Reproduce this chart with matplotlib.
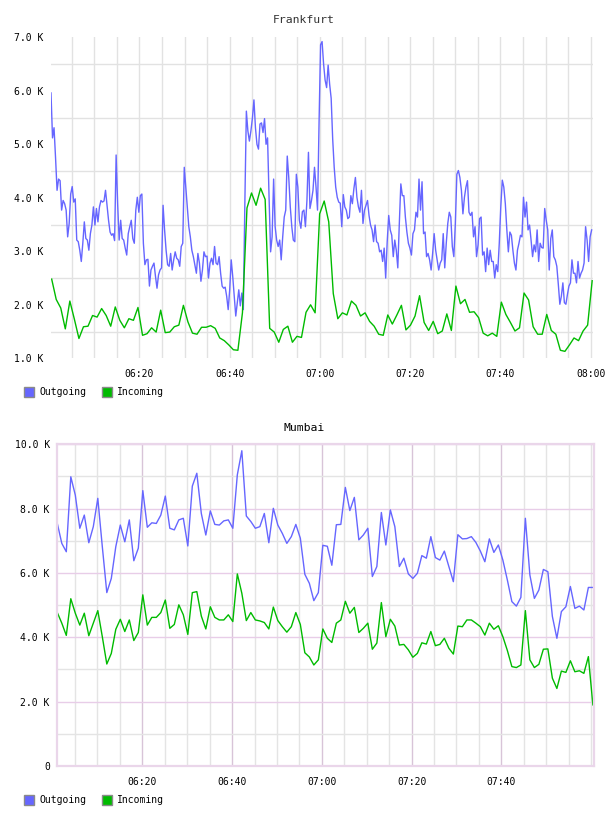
import matplotlib
matplotlib.use('Agg')
import matplotlib.pyplot as plt
import matplotlib.dates as mdates
from matplotlib.patches import Patch
from matplotlib.ticker import FuncFormatter, MultipleLocator
import pandas as pd

plt.rcParams.update({
    'font.family': 'DejaVu Sans Mono',
    'font.size': 7,
})

DAY = '2024-01-01 '
OUT_COLOR = '#6666ff'
IN_COLOR = '#00bb00'

# Frankfurt, values in K. outgoing sampled ~20 s, incoming ~1 min
frankfurt_out = [
    5.96, 5.12, 5.31, 4.75, 4.14, 4.35, 4.32, 3.77, 3.95, 3.89,
    3.77, 3.27, 3.52, 4.07, 4.21, 3.92, 3.98, 3.21, 3.18, 3.02,
    2.81, 3.15, 3.55, 3.24, 3.21, 3.02, 3.33, 3.49, 3.83, 3.49,
    3.80, 3.55, 3.83, 3.95, 3.92, 3.94, 4.14, 3.85, 3.58, 3.36,
    3.30, 3.33, 3.20, 4.80, 3.89, 3.21, 3.58, 3.24, 3.21, 3.06,
    2.93, 3.33, 3.46, 3.58, 3.24, 3.15, 3.77, 4.01, 3.73, 4.04,
    4.07, 3.15, 2.75, 2.84, 2.85, 2.35, 2.65, 2.72, 2.78, 2.53,
    2.31, 2.56, 2.65, 2.69, 3.86, 3.40, 3.02, 2.75, 2.72, 2.96,
    2.65, 2.84, 2.99, 2.87, 2.84, 2.72, 3.09, 3.15, 4.57, 4.20,
    3.83, 3.46, 3.27, 3.02, 2.90, 2.75, 2.59, 2.96, 2.78, 2.44,
    2.65, 2.99, 2.90, 2.91, 2.50, 2.78, 2.87, 2.75, 3.09, 2.78,
    2.75, 2.90, 2.59, 2.35, 2.31, 2.33, 2.16, 1.91, 2.28, 2.84,
    2.53, 2.16, 1.79, 2.04, 2.28, 1.98, 2.22, 1.91, 3.89, 5.62,
    5.25, 5.06, 5.25, 5.49, 5.83, 5.31, 5.00, 4.91, 5.38, 5.40,
    5.22, 5.48, 5.00, 5.12, 4.00, 2.99, 3.27, 4.35, 3.46, 3.21,
    3.09, 3.21, 2.84, 3.27, 3.64, 3.77, 4.78, 4.38, 3.83, 3.46,
    3.21, 3.18, 4.44, 4.20, 3.58, 3.43, 3.74, 3.77, 3.46, 3.95,
    4.85, 3.80, 3.95, 4.14, 4.57, 4.20, 3.77, 5.40, 6.86, 6.92,
    6.50, 6.20, 6.06, 6.48, 6.12, 5.86, 5.10, 4.57, 4.20, 4.01,
    3.92, 3.90, 3.46, 4.06, 3.83, 3.77, 3.61, 3.64, 4.04, 3.89,
    4.17, 4.38, 4.01, 3.83, 3.73, 4.14, 3.52, 3.77, 3.86, 3.95,
    3.67, 3.49, 3.40, 3.18, 3.49, 3.18, 3.15, 2.99, 3.02, 2.81,
    3.06, 2.50, 3.18, 3.67, 3.40, 3.30, 2.90, 3.21, 3.02, 2.69,
    3.52, 4.26, 4.04, 4.04, 3.64, 3.36, 3.15, 3.06, 2.93, 3.33,
    3.40, 3.73, 3.64, 4.35, 3.77, 4.30, 3.33, 3.36, 2.90, 2.96,
    2.84, 2.65, 2.96, 3.33, 3.02, 2.84, 2.65, 2.78, 2.84, 3.33,
    2.69, 3.15, 3.52, 3.73, 3.64, 3.09, 2.90, 3.52, 4.44, 4.51,
    4.38, 4.14, 3.70, 4.01, 4.20, 4.32, 3.73, 3.67, 3.73, 3.27,
    3.46, 2.90, 3.12, 3.61, 3.64, 2.93, 2.99, 2.62, 3.06, 2.75,
    3.02, 2.81, 2.81, 2.50, 2.75, 2.62, 3.15, 3.83, 4.33, 4.20,
    3.89, 3.40, 2.99, 3.36, 3.30, 3.02, 2.78, 2.65, 3.02, 3.15,
    3.30, 3.27, 4.01, 3.64, 3.92, 3.40, 3.49, 3.21, 2.90, 3.12,
    2.99, 3.40, 2.81, 3.15, 3.07, 3.06, 3.80, 3.58, 3.40, 2.65,
    3.24, 3.40, 2.90, 2.84, 2.72, 2.38, 2.01, 2.16, 2.41, 2.04,
    2.01, 2.19, 2.35, 2.41, 2.84, 2.59, 2.59, 2.41, 2.81, 2.50,
    2.59, 2.65, 2.78, 3.46, 3.21, 2.81, 3.27, 3.40,
]
frankfurt_in = [
    2.48, 2.10, 1.94, 1.55, 2.07, 1.73, 1.37, 1.59, 1.60, 1.80,
    1.77, 1.93, 1.80, 1.60, 1.96, 1.71, 1.57, 1.74, 1.71, 1.95,
    1.43, 1.46, 1.57, 1.49, 1.90, 1.48, 1.49, 1.59, 1.62, 1.99,
    1.68, 1.47, 1.45, 1.58, 1.58, 1.61, 1.56, 1.38, 1.33, 1.25,
    1.16, 1.15, 1.85, 3.81, 4.09, 3.86, 4.18, 3.97, 1.56, 1.49,
    1.30, 1.54, 1.60, 1.30, 1.41, 1.39, 1.86, 2.00, 1.85, 3.70,
    3.94, 3.55, 2.21, 1.74, 1.85, 1.81, 2.07, 1.99, 1.79, 1.85,
    1.69, 1.60, 1.45, 1.43, 1.81, 1.64, 1.81, 1.99, 1.53, 1.62,
    1.79, 2.17, 1.67, 1.52, 1.69, 1.46, 1.51, 1.83, 1.52, 2.35,
    2.02, 2.10, 1.86, 1.87, 1.76, 1.47, 1.42, 1.47, 1.41, 2.05,
    1.82, 1.67, 1.51, 1.57, 2.22, 2.09, 1.59, 1.45, 1.45, 1.82,
    1.52, 1.45, 1.15, 1.13, 1.25, 1.38, 1.33, 1.51, 1.62, 2.45,
]

# Mumbai, one sample per minute, values in K
mumbai_out = [
    7.54, 6.92, 6.66, 8.99, 8.42, 7.39, 7.80, 6.94, 7.44, 8.32,
    6.82, 5.39, 5.83, 6.82, 7.49, 6.97, 7.65, 6.38, 6.77, 8.56,
    7.42, 7.56, 7.54, 7.80, 8.39, 7.39, 7.34, 7.65, 7.70, 6.84,
    8.70, 9.10, 7.85, 7.18, 7.93, 7.51, 7.49, 7.62, 7.65, 7.39,
    9.05, 9.80, 7.77, 7.60, 7.39, 7.44, 7.85, 6.94, 8.01, 7.49,
    7.23, 6.92, 7.13, 7.51, 7.08, 5.96, 5.68, 5.14, 5.39, 6.86,
    6.83, 6.24, 7.50, 7.51, 8.66, 7.94, 8.35, 7.03, 7.18, 7.39,
    5.89, 6.20, 7.88, 6.87, 7.96, 7.44, 6.20, 6.46, 5.97, 5.83,
    5.99, 6.54, 6.46, 7.13, 6.48, 6.40, 6.68, 6.20, 5.73, 7.19,
    7.06, 7.07, 7.13, 6.95, 6.68, 6.35, 7.06, 6.64, 6.87, 6.40,
    5.78, 5.11, 4.97, 5.24, 7.70, 5.94, 5.21, 5.47, 6.11, 6.04,
    4.65, 3.97, 4.80, 4.95, 5.58, 4.90, 4.97, 4.85, 5.55, 5.55,
]
mumbai_in = [
    4.77, 4.44, 4.06, 5.20, 4.75, 4.38, 4.75, 4.05, 4.44, 4.83,
    4.02, 3.17, 3.50, 4.25, 4.56, 4.18, 4.54, 3.90, 4.15, 5.32,
    4.38, 4.62, 4.62, 4.77, 5.16, 4.28, 4.40, 5.01, 4.70, 4.09,
    5.39, 5.42, 4.66, 4.26, 4.95, 4.62, 4.54, 4.54, 4.70, 4.49,
    5.97, 5.37, 4.52, 4.77, 4.54, 4.51, 4.46, 4.26, 4.94, 4.52,
    4.33, 4.16, 4.33, 4.77, 4.40, 3.52, 3.39, 3.14, 3.30, 4.26,
    3.97, 3.84, 4.44, 4.54, 5.12, 4.75, 4.93, 4.15, 4.28, 4.44,
    3.63, 3.82, 5.08, 4.02, 4.56, 4.35, 3.76, 3.78, 3.61, 3.38,
    3.50, 3.83, 3.79, 4.18, 3.74, 3.78, 3.97, 3.66, 3.48, 4.35,
    4.33, 4.54, 4.54, 4.44, 4.33, 4.07, 4.44, 4.25, 4.36, 4.02,
    3.59, 3.09, 3.06, 3.14, 4.83, 3.30, 3.06, 3.16, 3.63, 3.64,
    2.73, 2.41, 2.95, 2.91, 3.27, 2.93, 2.96, 2.88, 3.40, 1.90,
]

# sample time spans (first, last) for each series
frankfurt_out_span = ('06:00:24', '08:00:13')
frankfurt_in_span = ('06:00:33', '08:00:20')
mumbai_span = ('06:01:03', '08:00:24')


def times(span, n):
    return pd.date_range(DAY + span[0], DAY + span[1], periods=n).to_pydatetime()


def t(s):
    return mdates.date2num(pd.Timestamp(DAY + s).to_pydatetime())


def k_fmt(v, pos):
    return '0' if abs(v) < 1e-9 else f'{v:.1f} K'


def style_time_axis(ax):
    ax.xaxis.set_major_locator(mdates.MinuteLocator(byminute=[0, 20, 40]))
    ax.xaxis.set_minor_locator(mdates.MinuteLocator(byminute=range(0, 60, 5)))
    ax.xaxis.set_major_formatter(mdates.DateFormatter('%H:%M'))
    ax.yaxis.set_major_formatter(FuncFormatter(k_fmt))
    ax.tick_params(which='both', length=0, labelsize=7, colors='black')
    ax.tick_params(axis='y', pad=5)
    ax.tick_params(axis='x', pad=8)


fig = plt.figure(figsize=(6.08, 8.16), dpi=100)

# --- Frankfurt ---
ax1 = fig.add_axes([50.7 / 608, 1 - 358.3 / 816, 542.6 / 608, 321 / 816])
ax1.plot(times(frankfurt_out_span, len(frankfurt_out)), frankfurt_out,
         color=OUT_COLOR, lw=1.0)
ax1.plot(times(frankfurt_in_span, len(frankfurt_in)), frankfurt_in,
         color=IN_COLOR, lw=1.0)
ax1.set_xlim(t('06:00:20'), t('08:00:35'))
ax1.set_ylim(1.0, 7.0)
ax1.yaxis.set_major_locator(MultipleLocator(1.0))
ax1.yaxis.set_minor_locator(MultipleLocator(0.5))
style_time_axis(ax1)
ax1.grid(axis='x', which='both', color='#e2e2e2', lw=1.0)
ax1.yaxis.grid(True, which='minor', color='#e2e2e2', lw=1.0)
ax1.yaxis.grid(False, which='major')
for sp in ax1.spines.values():
    sp.set_visible(False)
fig.text(0.5, 1 - 20 / 816, 'Frankfurt', ha='center', va='center',
         fontsize=8.2, color='#333333')

# --- Mumbai ---
ax2 = fig.add_axes([56.7 / 608, 1 - 766 / 816, 537.3 / 608, 321.7 / 816])
mt = times(mumbai_span, len(mumbai_out))
ax2.plot(mt, mumbai_out, color=OUT_COLOR, lw=1.0)
ax2.plot(mt, mumbai_in, color=IN_COLOR, lw=1.0)
ax2.set_xlim(t('06:00:55'), t('08:00:39'))
ax2.set_ylim(0, 10.0)
ax2.yaxis.set_major_locator(MultipleLocator(2.0))
ax2.yaxis.set_minor_locator(MultipleLocator(1.0))
style_time_axis(ax2)
ax2.xaxis.set_major_locator(mdates.MinuteLocator(byminute=[0, 20, 40]))
ax2.set_xticks([t(s) for s in ['06:20', '06:40', '07:00', '07:20', '07:40']])
ax2.xaxis.grid(True, which='major', color='#d8c4d8', lw=1.0)
ax2.xaxis.grid(True, which='minor', color='#e4e4e4', lw=1.0)
ax2.yaxis.grid(True, which='major', color='#e8cde8', lw=1.0)
ax2.yaxis.grid(True, which='minor', color='#e4e4e4', lw=1.0)
for sp in ax2.spines.values():
    sp.set_color('#ead6ea')
    sp.set_linewidth(1.6)
fig.text(0.5, 1 - 428 / 816, 'Mumbai', ha='center', va='center',
         fontsize=8.2, color='black')

# legends
for ypx in (392, 800):
    handles = [Patch(facecolor=OUT_COLOR, edgecolor='#8a8a8a', lw=1.0, label='Outgoing'),
               Patch(facecolor=IN_COLOR, edgecolor='#8a8a8a', lw=1.0, label='Incoming')]
    fig.legend(handles=handles, loc='center left',
               bbox_to_anchor=(24 / 608, 1 - ypx / 816), ncol=2, frameon=False,
               borderpad=0, borderaxespad=0, handlelength=1.05, handleheight=1.15,
               handletextpad=0.5, columnspacing=1.6, fontsize=7)

fig.savefig('out.png', dpi=100)
